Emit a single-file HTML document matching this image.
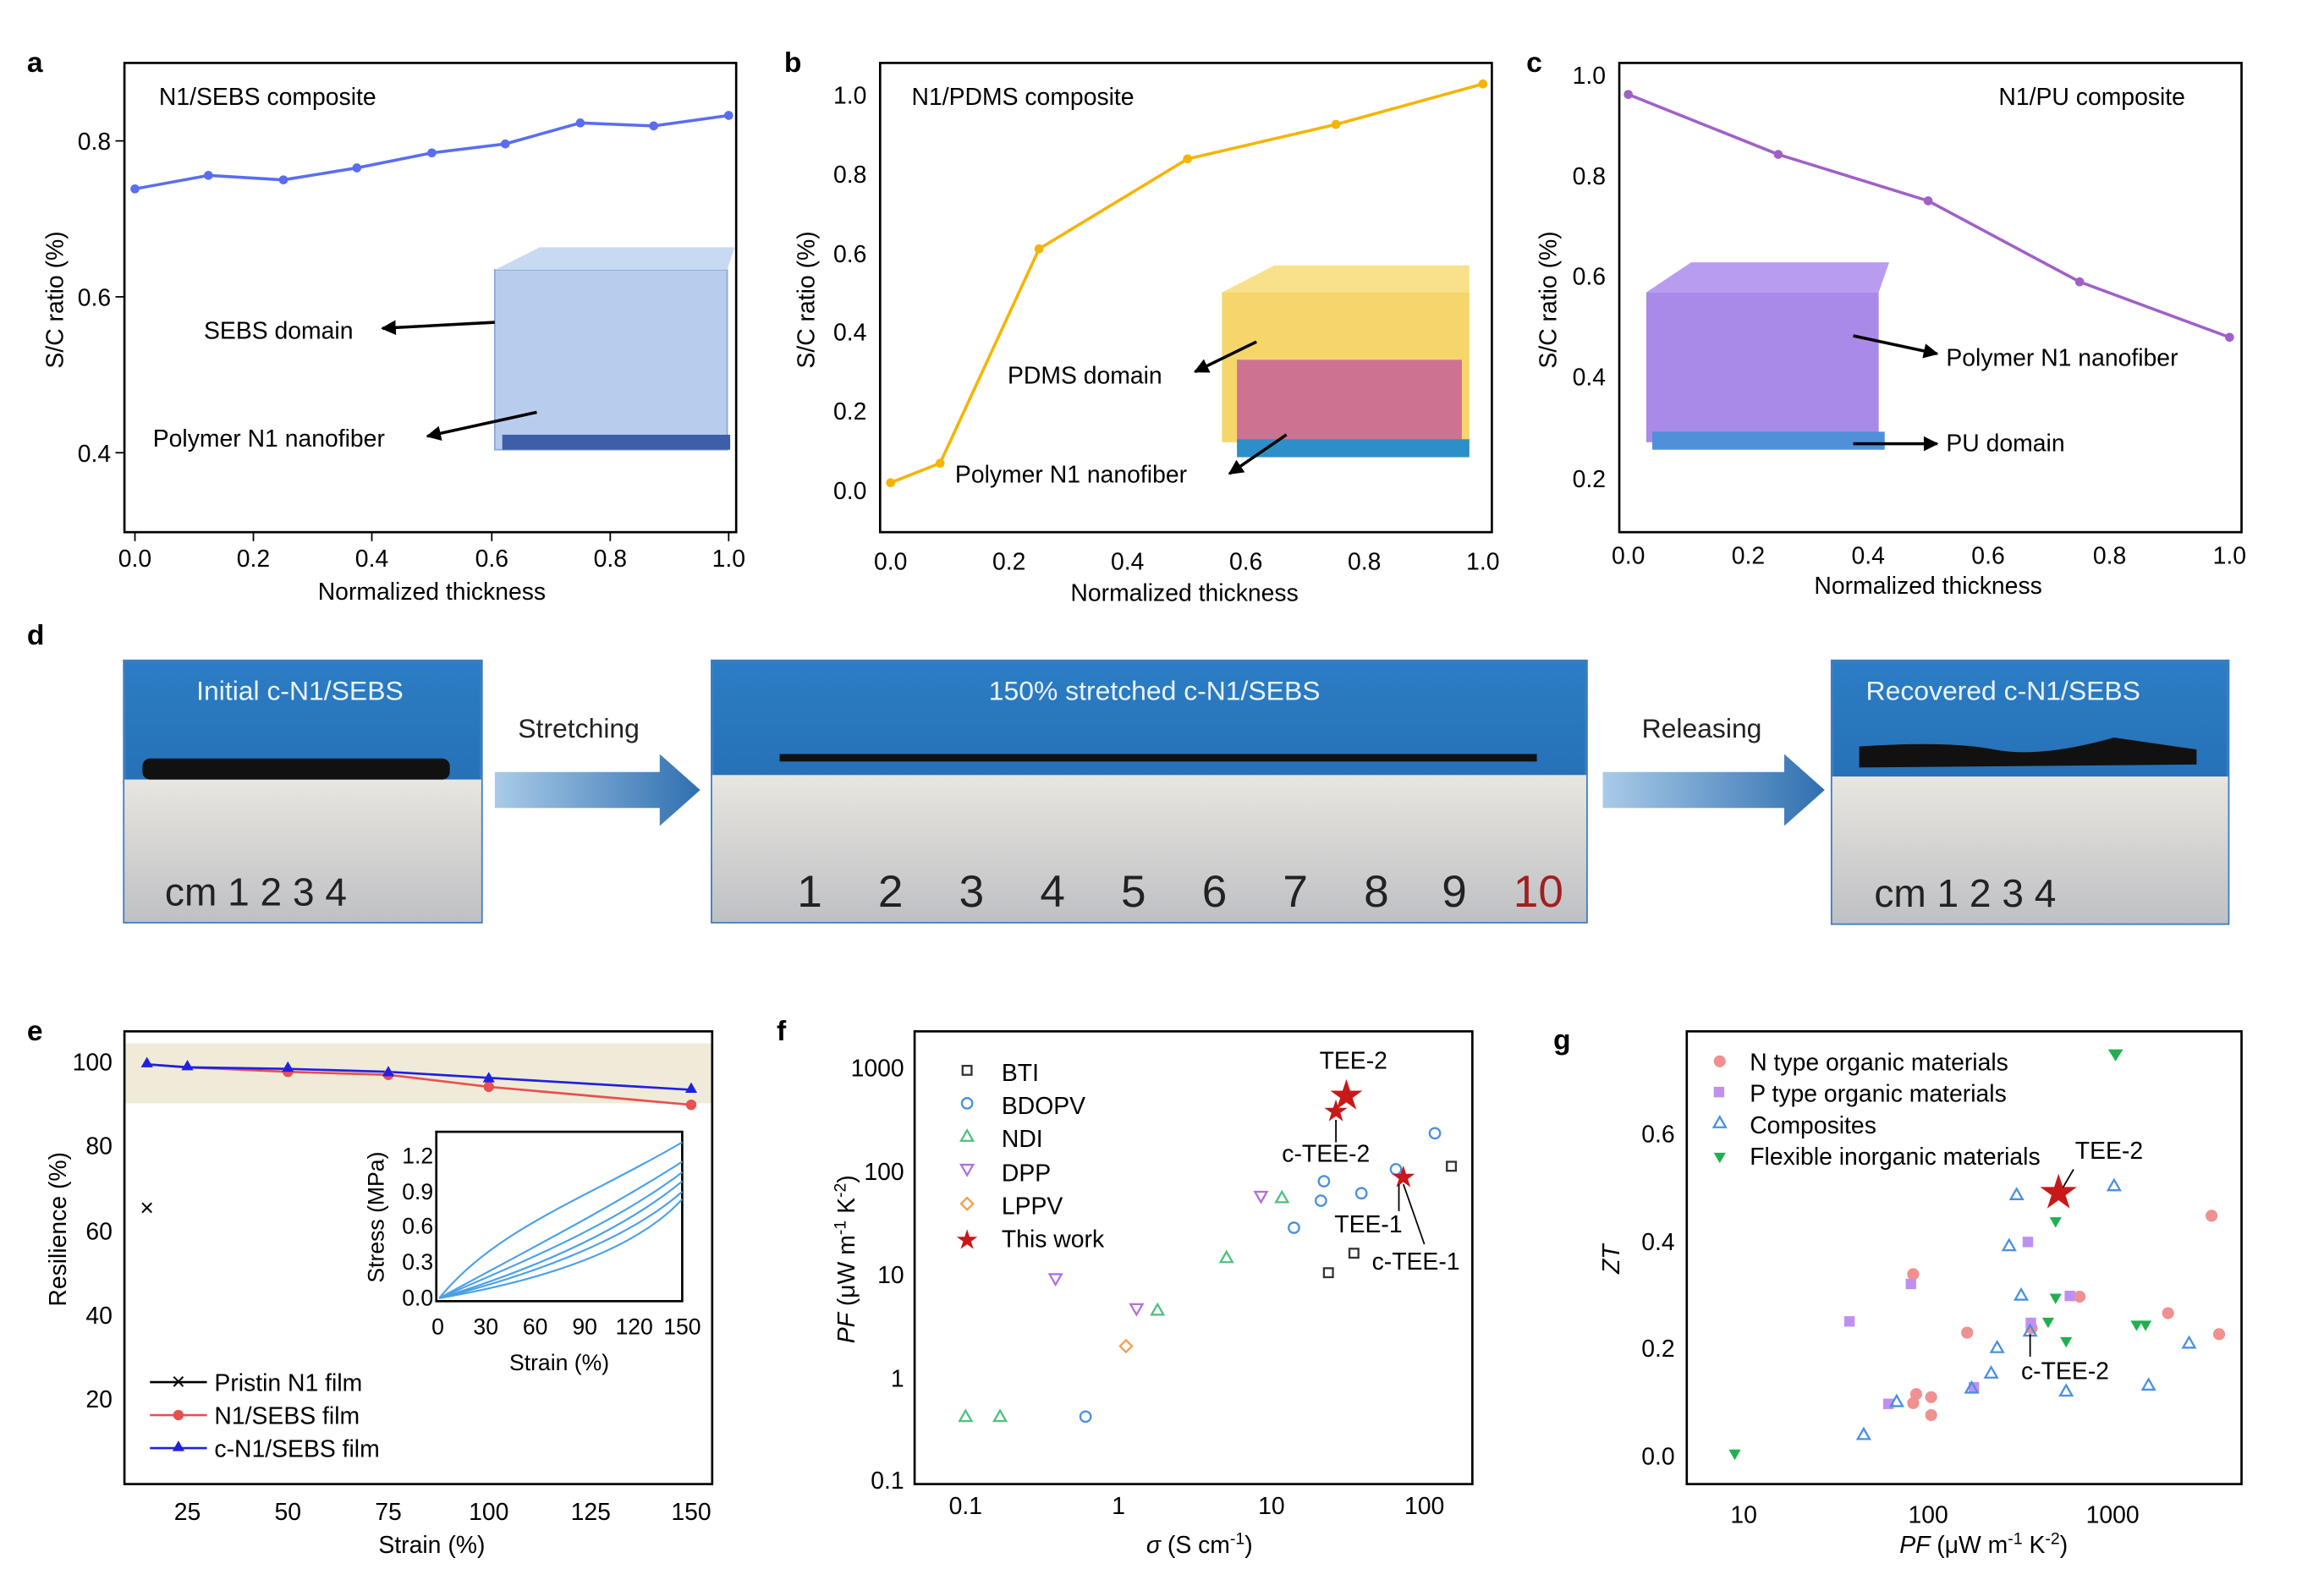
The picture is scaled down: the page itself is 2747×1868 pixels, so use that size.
<!DOCTYPE html><html><head><meta charset="utf-8"><style>html,body{margin:0;padding:0;background:#fff}svg{display:block}</style></head><body>
<svg width="2747" height="1868" viewBox="0 0 1550 1054" preserveAspectRatio="none" xmlns="http://www.w3.org/2000/svg" font-family="Liberation Sans, Arial, sans-serif">
<defs>
<linearGradient id="arr" x1="0" x2="1"><stop offset="0" stop-color="#a9cbe8"/><stop offset="1" stop-color="#2f6fb0"/></linearGradient>
<linearGradient id="ph" x1="0" y1="0" x2="0" y2="1"><stop offset="0" stop-color="#2c7dc4"/><stop offset="1" stop-color="#1f63a8"/></linearGradient>
<linearGradient id="rul" x1="0" y1="0" x2="0" y2="1"><stop offset="0" stop-color="#e8e6e0"/><stop offset="1" stop-color="#bfc0c4"/></linearGradient>
<marker id="ah" viewBox="0 0 10 10" refX="9" refY="5" markerWidth="5" markerHeight="5" orient="auto"><path d="M0,0L10,5L0,10z" fill="#000"/></marker>
</defs>
<g font-weight="bold" font-size="19"><text x="18" y="48">a</text><text x="523" y="48">b</text><text x="1018" y="48">c</text><text x="18" y="430">d</text><text x="18" y="694">e</text><text x="518" y="694">f</text><text x="1036" y="700">g</text></g>
<!-- panel a -->
<g font-size="16">
<rect x="83" y="42" width="408" height="313" fill="none" stroke="#000" stroke-width="1.5"/>
<g stroke="#000"><line x1="90" y1="355" x2="90" y2="361"/><line x1="169" y1="355" x2="169" y2="361"/><line x1="248" y1="355" x2="248" y2="361"/><line x1="328" y1="355" x2="328" y2="361"/><line x1="407" y1="355" x2="407" y2="361"/><line x1="486" y1="355" x2="486" y2="361"/><line x1="77" y1="94" x2="83" y2="94"/><line x1="77" y1="198" x2="83" y2="198"/><line x1="77" y1="302" x2="83" y2="302"/></g>
<g text-anchor="middle"><text x="90" y="378">0.0</text><text x="169" y="378">0.2</text><text x="248" y="378">0.4</text><text x="328" y="378">0.6</text><text x="407" y="378">0.8</text><text x="486" y="378">1.0</text><text x="288" y="400">Normalized thickness</text></g>
<g text-anchor="end"><text x="74" y="100">0.8</text><text x="74" y="204">0.6</text><text x="74" y="308">0.4</text></g>
<text transform="translate(42,200) rotate(-90)" text-anchor="middle">S/C ratio (%)</text>
<text x="106" y="70">N1/SEBS composite</text>
<rect x="330" y="180" width="155" height="120" fill="#b8cdee" stroke="#8aa8d8"/><polygon points="330,180 360,165 490,165 485,180" fill="#c8d9f2"/><rect x="335" y="290" width="152" height="10" fill="#3d5fa8"/>
<polyline fill="none" stroke="#5a6df0" stroke-width="2" points="90,126 139,117 189,120 238,112 288,102 337,96 387,82 436,84 486,77"/>
<g fill="#5a6df0"><circle cx="90" cy="126" r="3"/><circle cx="139" cy="117" r="3"/><circle cx="189" cy="120" r="3"/><circle cx="238" cy="112" r="3"/><circle cx="288" cy="102" r="3"/><circle cx="337" cy="96" r="3"/><circle cx="387" cy="82" r="3"/><circle cx="436" cy="84" r="3"/><circle cx="486" cy="77" r="3"/></g>
<text x="136" y="226">SEBS domain</text><text x="102" y="298">Polymer N1 nanofiber</text>
<g stroke="#000" stroke-width="2"><line x1="330" y1="215" x2="255" y2="219" marker-end="url(#ah)"/><line x1="358" y1="275" x2="285" y2="291" marker-end="url(#ah)"/></g>
</g>
<!-- panel b -->
<g font-size="16">
<rect x="587" y="42" width="408" height="313" fill="none" stroke="#000" stroke-width="1.5"/>
<g text-anchor="middle"><text x="594" y="380">0.0</text><text x="673" y="380">0.2</text><text x="752" y="380">0.4</text><text x="831" y="380">0.6</text><text x="910" y="380">0.8</text><text x="989" y="380">1.0</text><text x="790" y="401">Normalized thickness</text></g>
<g text-anchor="end"><text x="578" y="333">0.0</text><text x="578" y="280">0.2</text><text x="578" y="227">0.4</text><text x="578" y="175">0.6</text><text x="578" y="122">0.8</text><text x="578" y="69">1.0</text></g>
<text transform="translate(543,200) rotate(-90)" text-anchor="middle">S/C ratio (%)</text>
<text x="608" y="70">N1/PDMS composite</text>
<rect x="815" y="195" width="165" height="100" fill="#f6d66a"/><polygon points="815,195 850,177 980,177 980,195" fill="#f9e08a"/><rect x="825" y="240" width="150" height="60" fill="#c050a0" opacity="0.75"/><rect x="825" y="293" width="155" height="12" fill="#2d8fc8"/>
<polyline fill="none" stroke="#f5b400" stroke-width="2" points="594,322 627,309 693,166 792,106 891,83 989,56"/>
<g fill="#f5b400"><circle cx="594" cy="322" r="3"/><circle cx="627" cy="309" r="3"/><circle cx="693" cy="166" r="3"/><circle cx="792" cy="106" r="3"/><circle cx="891" cy="83" r="3"/><circle cx="989" cy="56" r="3"/></g>
<text x="672" y="256">PDMS domain</text><text x="637" y="322">Polymer N1 nanofiber</text>
<g stroke="#000" stroke-width="2"><line x1="838" y1="228" x2="797" y2="248" marker-end="url(#ah)"/><line x1="858" y1="290" x2="820" y2="316" marker-end="url(#ah)"/></g>
</g>
<!-- panel c -->
<g font-size="16">
<rect x="1080" y="42" width="415" height="313" fill="none" stroke="#000" stroke-width="1.5"/>
<g text-anchor="middle"><text x="1086" y="376">0.0</text><text x="1166" y="376">0.2</text><text x="1246" y="376">0.4</text><text x="1326" y="376">0.6</text><text x="1407" y="376">0.8</text><text x="1487" y="376">1.0</text><text x="1286" y="396">Normalized thickness</text></g>
<g text-anchor="end"><text x="1071" y="56">1.0</text><text x="1071" y="123">0.8</text><text x="1071" y="190">0.6</text><text x="1071" y="257">0.4</text><text x="1071" y="325">0.2</text></g>
<text transform="translate(1038,200) rotate(-90)" text-anchor="middle">S/C ratio (%)</text>
<text x="1333" y="70">N1/PU composite</text>
<rect x="1098" y="195" width="155" height="100" fill="#a98ae8"/><polygon points="1098,195 1128,175 1260,175 1253,195" fill="#b89cf0"/><rect x="1102" y="288" width="155" height="12" fill="#4f90d8"/>
<polyline fill="none" stroke="#a060c8" stroke-width="2" points="1086,63 1186,103 1286,134 1387,188 1487,225"/>
<g fill="#a060c8"><circle cx="1086" cy="63" r="3"/><circle cx="1186" cy="103" r="3"/><circle cx="1286" cy="134" r="3"/><circle cx="1387" cy="188" r="3"/><circle cx="1487" cy="225" r="3"/></g>
<text x="1298" y="244">Polymer N1 nanofiber</text><text x="1298" y="301">PU domain</text>
<g stroke="#000" stroke-width="2"><line x1="1236" y1="224" x2="1292" y2="236" marker-end="url(#ah)"/><line x1="1236" y1="296" x2="1292" y2="296" marker-end="url(#ah)"/></g>
</g>
<!-- panel d -->
<g font-size="18">
<rect x="83" y="441" width="238" height="174" fill="url(#ph)" stroke="#3a7dc0" stroke-width="2"/>
<rect x="83" y="520" width="238" height="95" fill="url(#rul)"/><rect x="95" y="506" width="205" height="14" rx="5" fill="#111"/>
<text x="200" y="467" fill="#eaf3ff" text-anchor="middle">Initial c-N1/SEBS</text>
<text x="110" y="604" font-size="26" fill="#222">cm 1  2  3  4</text>
<rect x="475" y="441" width="583" height="174" fill="url(#ph)" stroke="#3a7dc0" stroke-width="2"/>
<rect x="475" y="517" width="583" height="98" fill="url(#rul)"/><rect x="520" y="503" width="505" height="5" fill="#111"/>
<text x="770" y="467" fill="#eaf3ff" text-anchor="middle">150% stretched c-N1/SEBS</text>
<g font-size="30" fill="#222" text-anchor="middle"><text x="540" y="605">1</text><text x="594" y="605">2</text><text x="648" y="605">3</text><text x="702" y="605">4</text><text x="756" y="605">5</text><text x="810" y="605">6</text><text x="864" y="605">7</text><text x="918" y="605">8</text><text x="970" y="605">9</text><text x="1026" y="605" fill="#a02020">10</text></g>
<rect x="1222" y="441" width="264" height="175" fill="url(#ph)" stroke="#3a7dc0" stroke-width="2"/>
<rect x="1222" y="518" width="264" height="98" fill="url(#rul)"/><path d="M1240,498 Q1300,494 1330,500 T1410,492 L1465,500 L1465,510 L1240,512Z" fill="#111"/>
<text x="1336" y="467" fill="#eaf3ff" text-anchor="middle">Recovered c-N1/SEBS</text>
<text x="1250" y="605" font-size="26" fill="#222">cm 1  2  3  4</text>
<polygon points="330,515 440,515 440,503 467,527 440,551 440,539 330,539" fill="url(#arr)"/>
<polygon points="1069,515 1190,515 1190,503 1217,527 1190,551 1190,539 1069,539" fill="url(#arr)"/>
<text x="386" y="492" text-anchor="middle" fill="#222">Stretching</text><text x="1135" y="492" text-anchor="middle" fill="#222">Releasing</text>
</g>
<!-- panel e -->
<g font-size="16">
<rect x="83" y="696" width="392" height="40" fill="#efebd8"/>
<rect x="83" y="688" width="392" height="302" fill="none" stroke="#000" stroke-width="1.5"/>
<g text-anchor="middle"><text x="125" y="1014">25</text><text x="192" y="1014">50</text><text x="259" y="1014">75</text><text x="326" y="1014">100</text><text x="394" y="1014">125</text><text x="461" y="1014">150</text><text x="288" y="1036">Strain (%)</text></g>
<g text-anchor="end"><text x="75" y="714">100</text><text x="75" y="770">80</text><text x="75" y="827">60</text><text x="75" y="883">40</text><text x="75" y="939">20</text></g>
<text transform="translate(44,820) rotate(-90)" text-anchor="middle">Resilience (%)</text>
<polyline fill="none" stroke="#e85050" stroke-width="1.5" points="98,710 125,712 192,715 259,717 326,725 461,737"/>
<polyline fill="none" stroke="#2020e0" stroke-width="1.5" points="98,710 125,712 192,713 259,715 326,719 461,727"/>
<g fill="#e85050"><circle cx="192" cy="715" r="3.5"/><circle cx="259" cy="717" r="3.5"/><circle cx="326" cy="725" r="3.5"/><circle cx="461" cy="737" r="3.5"/></g>
<g fill="#2020e0"><path d="M98,705l4,7h-8z"/><path d="M125,707l4,7h-8z"/><path d="M192,708l4,7h-8z"/><path d="M259,711l4,7h-8z"/><path d="M326,715l4,7h-8z"/><path d="M461,722l4,7h-8z"/></g>
<text x="98" y="811" text-anchor="middle" font-size="16">×</text>
<rect x="291" y="755" width="164" height="113" fill="none" stroke="#000" stroke-width="1.5"/>
<g stroke="#4aa0e8" fill="none" stroke-width="1.2"><path d="M293,866 C330,820 390,800 455,762"/><path d="M293,866 C340,840 400,810 455,775"/><path d="M293,866 C340,845 405,820 455,782"/><path d="M293,866 C345,850 410,825 455,788"/><path d="M293,866 C345,853 415,830 455,795"/><path d="M293,866 C350,856 420,838 455,800"/></g>
<g text-anchor="middle" font-size="15"><text x="292" y="890">0</text><text x="324" y="890">30</text><text x="357" y="890">60</text><text x="390" y="890">90</text><text x="423" y="890">120</text><text x="455" y="890">150</text><text x="373" y="914">Strain (%)</text></g>
<g text-anchor="end" font-size="15"><text x="289" y="776">1.2</text><text x="289" y="800">0.9</text><text x="289" y="823">0.6</text><text x="289" y="847">0.3</text><text x="289" y="871">0.0</text></g>
<text transform="translate(256,812) rotate(-90)" text-anchor="middle" font-size="15">Stress (MPa)</text>
<g stroke-width="1.5"><line x1="100" y1="922" x2="138" y2="922" stroke="#000"/><line x1="100" y1="944" x2="138" y2="944" stroke="#e85050"/><line x1="100" y1="966" x2="138" y2="966" stroke="#2020e0"/></g>
<text x="119" y="927" text-anchor="middle">×</text><circle cx="119" cy="944" r="3.5" fill="#e85050"/><path d="M119,961l4,7h-8z" fill="#2020e0"/>
<text x="143" y="928">Pristin N1 film</text><text x="143" y="950">N1/SEBS film</text><text x="143" y="972">c-N1/SEBS film</text>
</g>
<!-- panel f -->
<g font-size="16">
<rect x="610" y="688" width="372" height="302" fill="none" stroke="#000" stroke-width="1.5"/>
<g text-anchor="middle"><text x="644" y="1010">0.1</text><text x="746" y="1010">1</text><text x="848" y="1010">10</text><text x="950" y="1010">100</text><text x="800" y="1036"><tspan font-style="italic">σ</tspan> (S cm<tspan font-size="11" dy="-6">-1</tspan><tspan dy="6">)</tspan></text></g>
<g text-anchor="end"><text x="603" y="718">1000</text><text x="603" y="787">100</text><text x="603" y="856">10</text><text x="603" y="925">1</text><text x="603" y="993">0.1</text></g>
<text transform="translate(570,840) rotate(-90)" text-anchor="middle"><tspan font-style="italic">PF</tspan> (μW m<tspan font-size="11" dy="-6">-1</tspan><tspan dy="6"> K</tspan><tspan font-size="11" dy="-6">-2</tspan><tspan dy="6">)</tspan></text>
<g fill="none" stroke-width="1.3">
<g stroke="#333"><rect x="642" y="711" width="6" height="6"/><rect x="883" y="846" width="6" height="6"/><rect x="900" y="833" width="6" height="6"/><rect x="965" y="775" width="6" height="6"/></g>
<g stroke="#4a90e0"><circle cx="645" cy="736" r="3.5"/><circle cx="724" cy="945" r="3.5"/><circle cx="863" cy="819" r="3.5"/><circle cx="881" cy="801" r="3.5"/><circle cx="883" cy="788" r="3.5"/><circle cx="908" cy="796" r="3.5"/><circle cx="931" cy="780" r="3.5"/><circle cx="957" cy="756" r="3.5"/></g>
<g stroke="#50c080"><path d="M645,754l4,7h-8z"/><path d="M644,941l4,7h-8z"/><path d="M667,941l4,7h-8z"/><path d="M772,870l4,7h-8z"/><path d="M818,835l4,7h-8z"/><path d="M855,795l4,7h-8z"/></g>
<g stroke="#b070e0"><path d="M645,784l4,-7h-8z"/><path d="M704,857l4,-7h-8z"/><path d="M758,877l4,-7h-8z"/><path d="M841,802l4,-7h-8z"/></g>
<g stroke="#f0a050"><path d="M645,799l4,4l-4,4l-4,-4z"/><path d="M751,894l4,4l-4,4l-4,-4z"/></g>
</g>
<g fill="#c81818"><text x="645" y="833" text-anchor="middle" font-size="18">★</text><text x="898" y="740" text-anchor="middle" font-size="28">★</text><text x="891" y="748" text-anchor="middle" font-size="20">★</text><text x="936" y="792" text-anchor="middle" font-size="20">★</text></g>
<text x="668" y="721">BTI</text><text x="668" y="743">BDOPV</text><text x="668" y="765">NDI</text><text x="668" y="788">DPP</text><text x="668" y="810">LPPV</text><text x="668" y="832">This work</text>
<text x="880" y="713">TEE-2</text><text x="855" y="775">c-TEE-2</text><text x="890" y="822">TEE-1</text><text x="915" y="847">c-TEE-1</text>
<g stroke="#000"><line x1="891" y1="747" x2="891" y2="762"/><line x1="933" y1="790" x2="933" y2="808"/><line x1="936" y1="790" x2="950" y2="830"/></g>
</g>
<!-- panel g -->
<g font-size="16">
<rect x="1125" y="688" width="370" height="302" fill="none" stroke="#000" stroke-width="1.5"/>
<g text-anchor="middle"><text x="1163" y="1016">10</text><text x="1286" y="1016">100</text><text x="1409" y="1016">1000</text><text x="1323" y="1036"><tspan font-style="italic">PF</tspan> (μW m<tspan font-size="11" dy="-6">-1</tspan><tspan dy="6"> K</tspan><tspan font-size="11" dy="-6">-2</tspan><tspan dy="6">)</tspan></text></g>
<g text-anchor="end"><text x="1117" y="762">0.6</text><text x="1117" y="834">0.4</text><text x="1117" y="905">0.2</text><text x="1117" y="977">0.0</text></g>
<text transform="translate(1080,840) rotate(-90)" text-anchor="middle" font-style="italic">ZT</text>
<g fill="#f09090"><circle cx="1147" cy="708" r="4"/><circle cx="1276" cy="850" r="4"/><circle cx="1312" cy="889" r="4"/><circle cx="1355" cy="886" r="4"/><circle cx="1387" cy="865" r="4"/><circle cx="1446" cy="876" r="4"/><circle cx="1475" cy="811" r="4"/><circle cx="1480" cy="890" r="4"/><circle cx="1278" cy="930" r="4"/><circle cx="1288" cy="932" r="4"/><circle cx="1276" cy="936" r="4"/><circle cx="1288" cy="944" r="4"/></g>
<g fill="#c090f0"><rect x="1143" y="725" width="7" height="7"/><rect x="1230" y="878" width="7" height="7"/><rect x="1271" y="853" width="7" height="7"/><rect x="1349" y="825" width="7" height="7"/><rect x="1351" y="879" width="7" height="7"/><rect x="1377" y="861" width="7" height="7"/><rect x="1313" y="922" width="7" height="7"/><rect x="1256" y="933" width="7" height="7"/></g>
<g fill="none" stroke="#4a90e0" stroke-width="1.3"><path d="M1147,745l4,7h-8z"/><path d="M1345,793l4,7h-8z"/><path d="M1410,787l4,7h-8z"/><path d="M1340,827l4,7h-8z"/><path d="M1348,860l4,7h-8z"/><path d="M1332,895l4,7h-8z"/><path d="M1328,912l4,7h-8z"/><path d="M1315,922l4,7h-8z"/><path d="M1265,931l4,7h-8z"/><path d="M1243,953l4,7h-8z"/><path d="M1378,924l4,7h-8z"/><path d="M1433,920l4,7h-8z"/><path d="M1460,892l4,7h-8z"/><path d="M1354,884l4,7h-8z"/></g>
<g fill="#20b050"><path d="M1147,776l4,-7h-8z"/><path d="M1411,708l5,-8h-10z"/><path d="M1371,819l4,-7h-8z"/><path d="M1371,870l4,-7h-8z"/><path d="M1366,886l4,-7h-8z"/><path d="M1378,899l4,-7h-8z"/><path d="M1425,888l4,-7h-8z"/><path d="M1431,888l4,-7h-8z"/><path d="M1157,974l4,-7h-8z"/></g>
<text x="1373" y="806" text-anchor="middle" font-size="32" fill="#c81818">★</text>
<text x="1167" y="714">N type organic materials</text><text x="1167" y="735">P type organic materials</text><text x="1167" y="756">Composites</text><text x="1167" y="777">Flexible inorganic materials</text>
<text x="1384" y="773">TEE-2</text><text x="1348" y="920">c-TEE-2</text>
<g stroke="#000"><line x1="1383" y1="780" x2="1376" y2="792"/><line x1="1354" y1="890" x2="1354" y2="905"/></g>
</g>
</svg>
</body></html>
